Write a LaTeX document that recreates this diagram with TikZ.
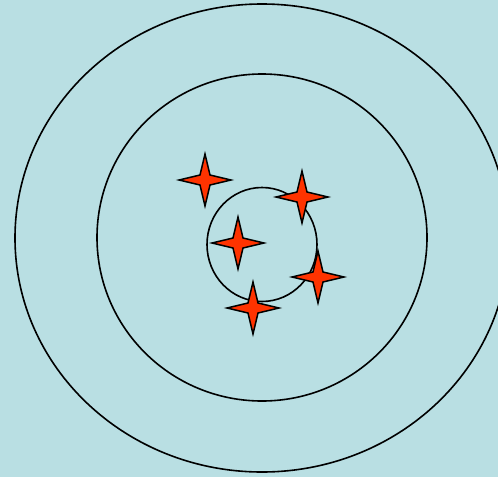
\documentclass[tikz,border=0pt]{standalone}
\begin{document}
\begin{tikzpicture}[x=1pt,y=-1pt,
  ring/.style={draw=black,line width=1.6pt},
  sparkle/.style={draw=black,fill=starred,line width=1.5pt,line join=miter,miter limit=20}]
\definecolor{bg}{HTML}{B9DFE3}
\definecolor{starred}{HTML}{FF3300}
\fill[bg] (0,0) rectangle (498,477);
\useasboundingbox (0,0) rectangle (498,477);
\begin{scope}
\clip (0,0) rectangle (498,477);
\draw[ring] (262,238) ellipse [x radius=247, y radius=234];
\end{scope}
\draw[ring] (262,237.5) ellipse [x radius=165, y radius=163.5];
\draw[ring] (262,244.5) ellipse [x radius=55, y radius=57];
\foreach \n/\cx/\cy in {s1/205/180, s2/302/197, s3/238/243, s4/318/277, s5/253/308}{
  \coordinate (\n) at (\cx,\cy);
  \draw[sparkle] (\n) ++(0,-26) -- ++(5,21) -- ++(21,5) -- ++(-21,5)
     -- ++(-5,21) -- ++(-5,-21) -- ++(-21,-5) -- ++(21,-5) -- cycle;
}
\end{tikzpicture}
\end{document}
